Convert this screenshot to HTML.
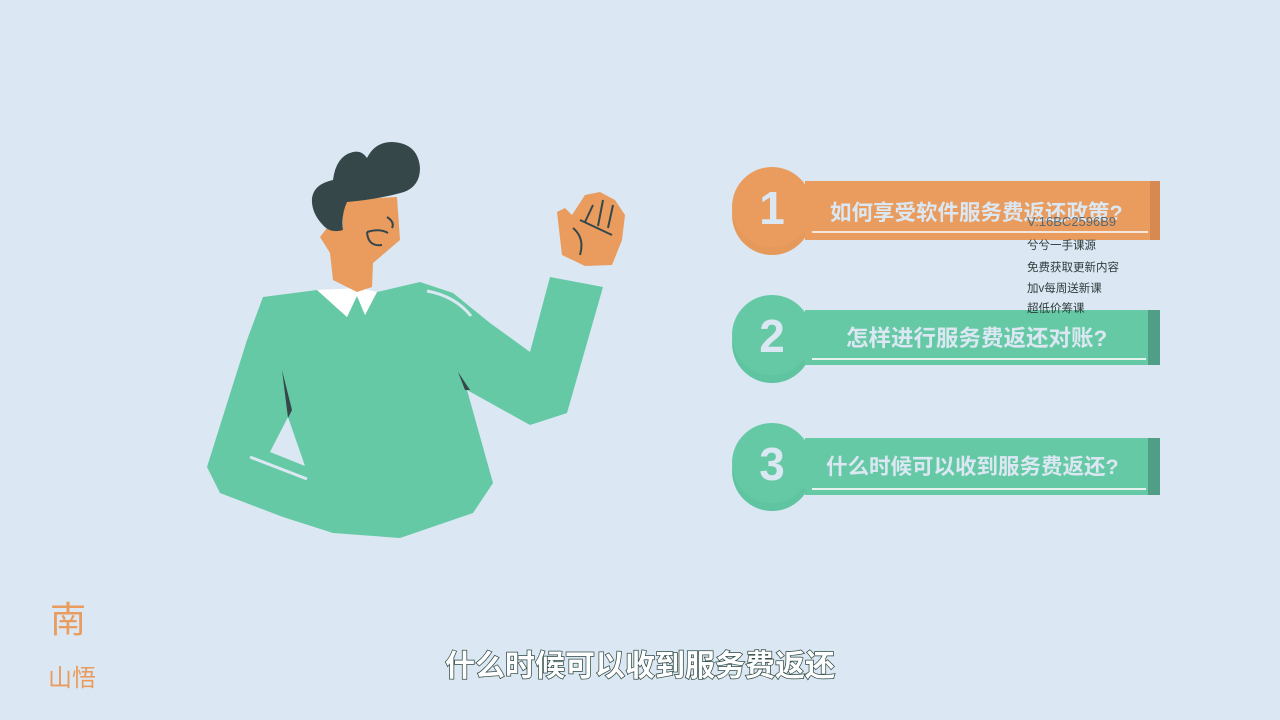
<!DOCTYPE html>
<html><head><meta charset="utf-8">
<style>
html,body{margin:0;padding:0;background:#dbe7f2;}
svg{display:block}
text{font-family:"Liberation Sans","Noto Sans CJK SC",sans-serif;}
</style></head>
<body>
<svg width="1280" height="720" viewBox="0 0 1280 720">
<rect width="1280" height="720" fill="#dbe7f2"/>

<g>
  <polygon fill="#64c9a4"
    points="263,297 317,290 347,317 357,295 365,315 377,292 420,282 453,293 490,323 530,352 550,277 603,287 567,413 530,425 467,390 493,483 473,513 400,538 333,533 283,517 220,493 207,467 247,340"/>
  <polygon fill="#dbe7f2" points="270,452 288,417 305,466"/>
  <polygon fill="#ffffff" points="317,290 347,317 357,296 365,315 377,292 360,288"/>
  <polygon fill="#36474a" points="282,370 292,410 288,418"/>
  <polygon fill="#36474a" points="458,372 470,390 465,390"/>
  <line x1="250" y1="457" x2="307" y2="479" stroke="#dbe7f2" stroke-width="3"/>
  <path d="M427,291 Q455,296 471,316" stroke="#dbe7f2" stroke-width="3" fill="none"/>
  <polygon fill="#e99c5d"
    points="343,200 397,197 400,240 373,263 372,287 357,292 333,280 330,253 320,237 327,228 343,230"/>
  <path fill="#36474a"
    d="M312,198 Q314,184 333,180 Q336,156 353,152 Q362,150 367,158 Q375,142 392,142 Q418,143 420,168 Q420,186 404,192 Q380,199 347,202 Q341,215 343,230 Q330,234 322,224 Q311,212 312,198 Z"/>
  <path d="M367,232 Q380,228 388,233 M367,232 Q368,247 382,245 M387,217 Q395,222 392,228" stroke="#36474a" stroke-width="2" fill="none"/>
  <polygon fill="#e99c5d"
    points="557,212 565,208 572,215 585,195 600,192 615,200 625,215 622,240 612,265 585,266 562,255"/>
  <path d="M593,205 L585,222 M603,200 L598,226 M613,205 L608,228 M580,220 L612,235 M573,228 Q585,238 580,255" stroke="#36474a" stroke-width="2" fill="none"/>
</g>

<g>
  <circle cx="772" cy="215" r="40" fill="#e59a5b"/>
  <rect x="805" y="181" width="355" height="59" fill="#e99c5d"/>
  <rect x="1150" y="181" width="10" height="59" fill="#d68a52"/>
  <line x1="812" y1="232" x2="1148" y2="232" stroke="#f3e6dc" stroke-width="2"/>
  <circle cx="772" cy="207" r="40" fill="#e99c5d"/>
  <text x="772" y="224" text-anchor="middle" font-size="46" font-weight="bold" fill="#dbe7f2">1</text>
  <text x="830" y="220" font-size="21.5" font-weight="bold" fill="#dbe7f2">如何享受软件服务费返还政策?</text>
</g>

<g>
  <circle cx="772" cy="343" r="40" fill="#5fc4a0"/>
  <rect x="805" y="310" width="355" height="55" fill="#64c9a4"/>
  <rect x="1148" y="310" width="12" height="55" fill="#4f9e85"/>
  <line x1="812" y1="359" x2="1146" y2="359" stroke="#e6f2ee" stroke-width="2"/>
  <circle cx="772" cy="335" r="40" fill="#64c9a4"/>
  <text x="772" y="352" text-anchor="middle" font-size="46" font-weight="bold" fill="#dbe7f2">2</text>
  <text x="846" y="346" font-size="22.5" font-weight="bold" fill="#dbe7f2">怎样进行服务费返还对账?</text>
</g>

<g>
  <circle cx="772" cy="471" r="40" fill="#5fc4a0"/>
  <rect x="805" y="438" width="355" height="57" fill="#64c9a4"/>
  <rect x="1148" y="438" width="12" height="57" fill="#4f9e85"/>
  <line x1="812" y1="489" x2="1146" y2="489" stroke="#e6f2ee" stroke-width="2"/>
  <circle cx="772" cy="463" r="40" fill="#64c9a4"/>
  <text x="772" y="480" text-anchor="middle" font-size="46" font-weight="bold" fill="#dbe7f2">3</text>
  <text x="826" y="474" font-size="21.5" font-weight="bold" fill="#dbe7f2">什么时候可以收到服务费返还?</text>
</g>

<g fill="#2f3d3c" font-size="11.5">
  <text x="1027" y="226" fill="#5a6870" font-size="13">V:16BC2596B9</text>
  <text x="1027" y="249">兮兮一手课源</text>
  <text x="1027" y="271">免费获取更新内容</text>
  <text x="1027" y="292">加v每周送新课</text>
  <text x="1027" y="312">超低价筹课</text>
</g>

<g fill="#e99c5d">
  <text x="50" y="632" font-size="36" font-family="'Noto Serif CJK SC',serif">南</text>
  <text x="48" y="686" font-size="24" font-family="'Noto Serif CJK SC',serif">山悟</text>
</g>

<text x="640" y="676" text-anchor="middle" font-size="30" font-weight="bold" fill="#ffffff" stroke="#2f4a44" stroke-width="1.5" paint-order="stroke">什么时候可以收到服务费返还</text>
</svg>
</body></html>
